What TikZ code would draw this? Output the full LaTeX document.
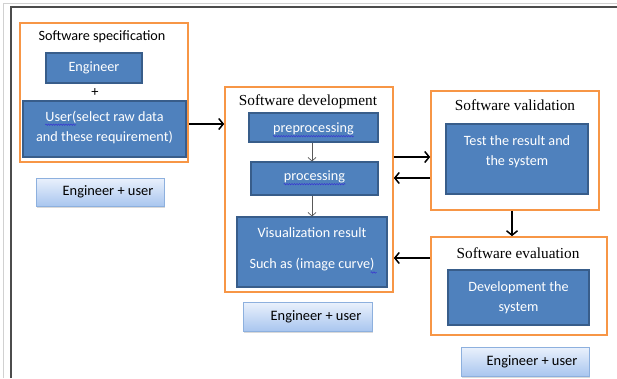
\documentclass[tikz,border=0pt]{standalone}
\usepackage{fontspec}
\setmainfont{Carlito}
\newfontfamily\serifttl{Liberation Serif}
\usetikzlibrary{arrows.meta,shadows,decorations.pathmorphing}
\definecolor{boxblue}{HTML}{4F81BD}
\definecolor{boxedge}{HTML}{385D8A}
\definecolor{orangeedge}{HTML}{F79646}
\definecolor{lighttop}{HTML}{EAF1FC}
\definecolor{lightbot}{HTML}{A9C6EF}
\definecolor{lightedge}{HTML}{8DB0DE}
\definecolor{wavecol}{HTML}{3A3AD0}
\begin{document}
\begin{tikzpicture}[x=1pt,y=-1pt,
  stage/.style={draw=orangeedge, line width=1.6pt, fill=white, inner sep=0pt},
  bluebox/.style={draw=boxedge, line width=1.1pt, fill=boxblue, inner sep=0pt,
    text=white, align=center, font=\fontsize{14.2}{20}\selectfont},
  lightbox/.style={draw=lightedge, line width=0.8pt, top color=lighttop, bottom color=lightbot,
    inner sep=0pt, drop shadow={shadow xshift=1pt, shadow yshift=-1.5pt, opacity=0.3}},
  txt/.style={inner sep=0pt, text=white, align=center, font=\fontsize{14.2}{20}\selectfont},
  blacktxt/.style={inner sep=0pt, text=black, font=\fontsize{14.4}{17}\selectfont},
  ttlserif/.style={inner sep=0pt, text=black, font=\serifttl\fontsize{15.3}{18}\selectfont},
  ttlsans/.style={inner sep=0pt, text=black, font=\fontsize{14.2}{17}\selectfont},
  flow/.style={line width=1.5pt, draw=black, -{Straight Barb[length=4.5pt,width=11pt]}},
  thinflow/.style={line width=0.7pt, draw=black!65, -{Straight Barb[length=3.5pt,width=8pt]}},
  spell/.style={draw=wavecol, line width=0.55pt, decorate,
    decoration={snake, amplitude=0.7pt, segment length=2.5pt}}]
\useasboundingbox (0,0) rectangle (617,378);
% outer frame
\draw[black!18, line width=0.9pt] (3,378) -- (3,3) -- (617,3);
\draw[black!70, line width=1.3pt] (11,378) -- (11,7) -- (617,7);

% Software specification
\node[stage, minimum width=168pt, minimum height=139pt] (spec) at (104,92.5) {};
\node[ttlsans] (spectitle) at (102,37) {Software specification};
\node[bluebox, minimum width=96pt, minimum height=30pt] (eng) at (94,68) {Engineer};
\node[blacktxt] (plus) at (95,93) {+};
\node[bluebox, minimum width=163pt, minimum height=56pt] (user) at (104.5,129) {};
\node[txt] (usertxt1) at (104.5,117) {User(select raw data};
\node[txt] (usertxt2) at (104.5,137) {and these requirement)};
\draw[spell] ([yshift=-3.5pt]usertxt1.base west) -- ([yshift=-3.5pt,xshift=31pt]usertxt1.base west);
\node[lightbox, minimum width=128pt, minimum height=28pt] (eu1) at (100,192) {};
\node[blacktxt] (eu1t) at (108,192) {Engineer + user};

% Software development
\node[stage, minimum width=168pt, minimum height=205pt] (dev) at (309,189.5) {};
\node[ttlserif] (devtitle) at (308,102) {Software development};
\node[bluebox, minimum width=129pt, minimum height=29pt] (pre) at (313.5,127.5) {};
\node[txt] (pret) at (313.5,129) {preprocessing};
\draw[spell] ([yshift=-3.5pt]pret.base west) -- ([yshift=-3.5pt]pret.base east);
\node[bluebox, minimum width=127pt, minimum height=33pt] (proc) at (314.5,178.5) {};
\node[txt] (proct) at (314.5,177) {processing};
\draw[spell] ([yshift=-3.5pt]proct.base west) -- ([yshift=-3.5pt]proct.base east);
\node[bluebox, minimum width=150pt, minimum height=70pt] (vis) at (312,252) {};
\node[txt] (vist1) at (312,233) {Visualization result};
\node[txt] (vist2) at (312,265) {Such as (image curve)};
\draw[spell] ([yshift=-3.5pt,xshift=-4pt]vist2.base east) -- ([yshift=-3.5pt,xshift=2pt]vist2.base east);
\node[lightbox, minimum width=129pt, minimum height=29pt] (eu2) at (307.5,316.5) {};
\node[blacktxt] (eu2t) at (316,316.5) {Engineer + user};
\draw[thinflow] (pre.south -| 312,0) -- (proc.north -| 312,0);
\draw[thinflow] (proc.south -| 312,0) -- (vis.north -| 312,0);

% Software validation
\node[stage, minimum width=168pt, minimum height=119pt] (val) at (515,150.5) {};
\node[ttlserif] (valtitle) at (515,105) {Software validation};
\node[bluebox, minimum width=142pt, minimum height=70pt] (test) at (517,159) {};
\node[txt] (testt) at (517,151.5) {Test the result and\\the system};

% Software evaluation
\node[stage, minimum width=176pt, minimum height=98pt] (eval) at (519,286) {};
\node[ttlserif] (evaltitle) at (518,253) {Software evaluation};
\node[bluebox, minimum width=141pt, minimum height=55pt] (devsys) at (518.5,297.5) {Development the\\system};
\node[lightbox, minimum width=128pt, minimum height=29pt] (eu3) at (525,361.5) {};
\node[blacktxt] (eu3t) at (532,361.5) {Engineer + user};

% connectors
\draw[flow] (spec.east |- 0,124) -- (dev.west |- 0,124);
\draw[flow] (dev.east |- 0,157) -- (val.west |- 0,157);
\draw[flow] (val.west |- 0,178) -- (dev.east |- 0,178);
\draw[flow] (eval.west |- 0,258) -- (dev.east |- 0,258);
\draw[flow] (val.south -| 512,0) -- (eval.north -| 512,0);
\end{tikzpicture}
\end{document}
